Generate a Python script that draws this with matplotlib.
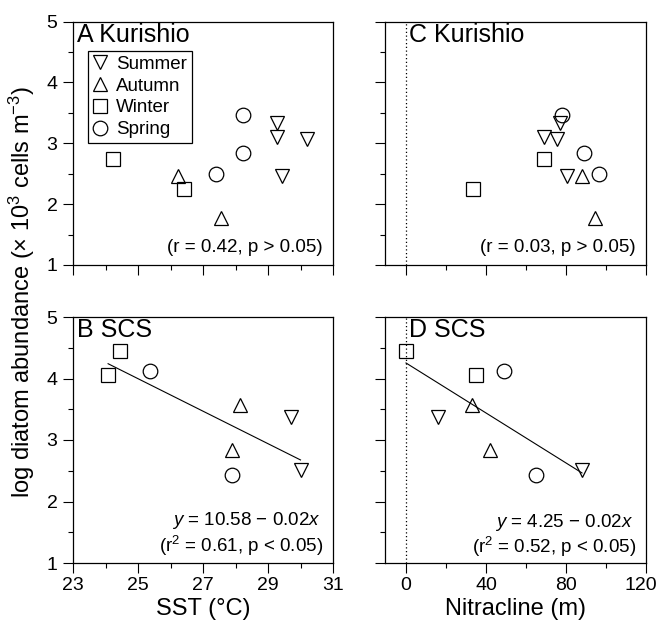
import numpy as np
import matplotlib
matplotlib.use("Agg")
import matplotlib.pyplot as plt
import matplotlib.transforms as mtransforms
from matplotlib.ticker import FixedLocator

plt.rcParams['font.family'] = ['Liberation Sans', 'DejaVu Sans']
plt.rcParams['mathtext.fontset'] = 'custom'
plt.rcParams['mathtext.rm'] = 'Liberation Sans'
plt.rcParams['mathtext.it'] = 'Liberation Sans:italic'

# seasons and marker shapes
seasons = ['Summer', 'Autumn', 'Winter', 'Spring']
markers = ['v', '^', 's', 'o']

# Kurishio: log diatom abundance, SST and nitracline depth per season
kur_log = [[3.33, 3.10, 3.07, 2.46], [2.46, 1.78], [2.74, 2.25], [3.47, 2.84, 2.50]]
kur_sst = [[29.28, 29.28, 30.21, 29.42], [26.22, 27.54], [24.23, 26.43], [28.23, 28.23, 27.40]]
kur_nit = [[77.2, 68.8, 75.5, 80.5], [88.0, 94.3], [68.8, 33.3], [78.0, 89.2, 96.3]]

# South China Sea
scs_log = [[3.37, 2.52], [3.57, 2.83], [4.44, 4.06], [4.13, 2.43]]
scs_sst = [[29.72, 30.00], [28.13, 27.88], [24.44, 24.08], [25.38, 27.88]]
scs_nit = [[16.0, 88.0], [33.0, 42.2], [0.0, 35.2], [48.8, 65.0]]

# ticks
y_major = [1, 2, 3, 4, 5]
y_minor = [1.5, 2.5, 3.5, 4.5]
sst_major = [23, 25, 27, 29, 31]
sst_minor = [24, 26, 28, 30]
nit_major = [0, 40, 80, 120]
nit_minor = [20, 60, 100]

W, H = 660, 637
fig = plt.figure(figsize=(W / 100, H / 100), dpi=100)


def rect(l, t, r, b):
    return [l / W, 1 - b / H, (r - l) / W, (b - t) / H]


axA = fig.add_axes(rect(73, 21.5, 333, 265))
axC = fig.add_axes(rect(385, 21.5, 646, 265))
axB = fig.add_axes(rect(73, 317, 333, 563))
axD = fig.add_axes(rect(385, 317, 646, 563))

panels = [
    (axA, kur_sst, kur_log, 'A', 'Kurishio', 'sst'),
    (axB, scs_sst, scs_log, 'B', 'SCS', 'sst'),
    (axC, kur_nit, kur_log, 'C', 'Kurishio', 'nit'),
    (axD, scs_nit, scs_log, 'D', 'SCS', 'nit'),
]

for ax, xs, ys, letter, name, kind in panels:
    for s, m, x, y in zip(seasons, markers, xs, ys):
        ax.plot(x, y, linestyle='none', marker=m, ms=10.5, mfc='none',
                mec='black', mew=0.9, label=s, zorder=3)
    ax.set_ylim(1, 5)
    ax.yaxis.set_major_locator(FixedLocator(y_major))
    ax.yaxis.set_minor_locator(FixedLocator(y_minor))
    if kind == 'sst':
        ax.set_xlim(23, 31)
        ax.xaxis.set_major_locator(FixedLocator(sst_major))
        ax.xaxis.set_minor_locator(FixedLocator(sst_minor))
        tx = 0.015
    else:
        ax.set_xlim(-10.5, 120)
        ax.xaxis.set_major_locator(FixedLocator(nit_major))
        ax.xaxis.set_minor_locator(FixedLocator(nit_minor))
        ax.axvline(0, color='black', linestyle=(0, (1, 2)), lw=0.9, zorder=1)
        tx = 0.092
    ax.tick_params(which='both', direction='out', top=False, right=False,
                   width=0.8, labelsize=14)
    ax.tick_params(which='major', length=7.2)
    ax.tick_params(which='minor', length=3.6)
    ax.tick_params(axis='y', pad=4)
    ax.tick_params(axis='x', pad=3)
    for sp in ax.spines.values():
        sp.set_linewidth(0.9)
    ax.text(tx, 0.995, letter + ' ' + name, transform=ax.transAxes,
            ha='left', va='top', fontsize=18)

for ax in (axA, axC):
    ax.tick_params(axis='x', labelbottom=False)
for ax in (axC, axD):
    ax.tick_params(axis='y', labelleft=False)

# regression lines for SCS panels
for ax, xs in ((axB, scs_sst), (axD, scs_nit)):
    xa = np.concatenate([np.asarray(v) for v in xs])
    ya = np.concatenate([np.asarray(v) for v in scs_log])
    k, b = np.polyfit(xa, ya, 1)
    xx = np.array([xa.min(), xa.max()])
    ax.plot(xx, k * xx + b, color='black', lw=0.8, zorder=2)

axA.text(0.962, 0.053, '(r = 0.42, p > 0.05)', transform=axA.transAxes,
         ha='right', va='baseline', fontsize=13.5)
axC.text(0.962, 0.053, '(r = 0.03, p > 0.05)', transform=axC.transAxes,
         ha='right', va='baseline', fontsize=13.5)
axB.text(0.953, 0.154, '$y$ = 10.58 \u2212 0.02$x$', transform=axB.transAxes,
         ha='right', va='baseline', fontsize=13.5)
axB.text(0.962, 0.046, '(r$^2$ = 0.61, p < 0.05)', transform=axB.transAxes,
         ha='right', va='baseline', fontsize=13.5)
axD.text(0.949, 0.148, '$y$ = 4.25 \u2212 0.02$x$', transform=axD.transAxes,
         ha='right', va='baseline', fontsize=13.5)
axD.text(0.962, 0.040, '(r$^2$ = 0.52, p < 0.05)', transform=axD.transAxes,
         ha='right', va='baseline', fontsize=13.5)

leg = axA.legend(loc='upper left', bbox_to_anchor=(0.058, 0.879),
                 borderaxespad=0, fancybox=False, edgecolor='black',
                 framealpha=1, fontsize=13.5, handlelength=0.8,
                 handletextpad=0.45, labelspacing=0.25, borderpad=0.25,
                 markerscale=1.0)
leg.get_frame().set_linewidth(0.9)

axB.set_xlabel('SST (\u00b0C)', fontsize=17, labelpad=3)
axD.set_xlabel('Nitracline (m)', fontsize=17, labelpad=3)
fig.text(22 / W, 1 - 292 / H,
         'log diatom abundance (\u00d7 10$^3$ cells m$^{\u22123}$)',
         rotation=90, ha='center', va='center', fontsize=17)

# nudge the last nitracline label so it stays inside the figure
fig.canvas.draw()
shift = mtransforms.ScaledTranslation(-5 / 100, 0, fig.dpi_scale_trans)
lbl = axD.get_xticklabels()[-1]
lbl.set_transform(lbl.get_transform() + shift)

fig.savefig('out.png', dpi=100)
